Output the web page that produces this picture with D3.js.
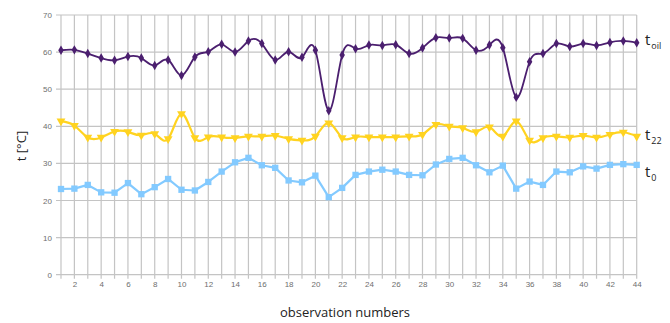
<!DOCTYPE html>
<html>
<head>
<meta charset="utf-8">
<script src="https://cdn.jsdelivr.net/npm/d3@7"></script>
<style>
  html, body { margin: 0; padding: 0; background: #fff; }
  svg { display: block; }
</style>
</head>
<body>
<svg id="chart" width="670" height="323"></svg>
<script>
// observation numbers 1..44
const observations = d3.range(1, 45);

// oil temperature
const tOil = [60.5, 60.6, 59.6, 58.4, 57.8, 58.8, 58.4, 56.4, 57.9, 53.7,
              58.7, 60.1, 62.1, 60.0, 63.0, 62.3, 57.9, 60.1, 58.6, 60.5,
              44.2, 59.2, 60.9, 61.9, 61.8, 62.0, 59.6, 61.1, 63.9, 63.8,
              63.7, 60.5, 61.9, 61.2, 47.8, 57.4, 59.6, 62.3, 61.5, 62.3,
              61.8, 62.6, 63.0, 62.5];

// t22 temperature
const t22 = [41.4, 40.2, 37.0, 37.0, 38.6, 38.5, 37.6, 38.0, 36.6, 43.4,
             36.9, 37.1, 37.1, 36.9, 37.3, 37.3, 37.5, 36.6, 36.2, 37.3,
             40.9, 36.9, 37.1, 37.1, 37.1, 37.1, 37.3, 37.8, 40.5, 40.0,
             39.6, 38.5, 39.8, 37.3, 41.4, 36.2, 36.9, 37.3, 37.0, 37.5,
             37.0, 37.8, 38.4, 37.3];

// ambient temperature
const t0 = [23.1, 23.2, 24.2, 22.2, 22.1, 24.7, 21.7, 23.6, 25.8, 22.9,
            22.7, 25.0, 27.8, 30.3, 31.5, 29.5, 28.8, 25.4, 24.9, 26.7,
            20.9, 23.4, 26.9, 27.8, 28.3, 27.8, 26.9, 26.8, 29.7, 31.2,
            31.5, 29.5, 27.6, 29.4, 23.2, 25.1, 24.2, 27.8, 27.6, 29.2,
            28.6, 29.6, 29.8, 29.6];

const yTicks = [0, 10, 20, 30, 40, 50, 60, 70];
const xTickLabels = d3.range(2, 45, 2);

const svg = d3.select("#chart");
const plotLeft = 61, plotRight = 636.7, plotTop = 15, plotBottom = 274.7;

const x = d3.scaleLinear().domain([1, 44]).range([plotLeft, plotRight]);
const y = d3.scaleLinear().domain([0, 70]).range([plotBottom, plotTop]);

const gridColor = "#c4c4c4";
const labelColor = "#6e6e6e";

// vertical grid: one line per observation
svg.append("g")
  .selectAll("line")
  .data(observations)
  .join("line")
  .attr("x1", d => x(d)).attr("x2", d => x(d))
  .attr("y1", plotTop).attr("y2", plotBottom + 4)
  .attr("stroke", gridColor).attr("stroke-width", 1.2);

// horizontal grid
svg.append("g")
  .selectAll("line")
  .data(yTicks)
  .join("line")
  .attr("x1", plotLeft - 5).attr("x2", plotRight)
  .attr("y1", d => y(d)).attr("y2", d => y(d))
  .attr("stroke", gridColor).attr("stroke-width", 1.2);

// y axis labels
const yAxis = d3.axisLeft(y).tickValues(yTicks).tickSize(0).tickPadding(9);
svg.append("g")
  .attr("transform", `translate(${plotLeft},0)`)
  .call(yAxis)
  .call(g => g.select(".domain").remove())
  .call(g => g.selectAll("text")
    .attr("fill", labelColor)
    .attr("font-family", "Liberation Sans, Arial, sans-serif")
    .attr("font-size", 8));

// x axis labels (even observations only)
const xAxis = d3.axisBottom(x).tickValues(xTickLabels).tickSize(0).tickPadding(7);
svg.append("g")
  .attr("transform", `translate(0,${plotBottom})`)
  .call(xAxis)
  .call(g => g.select(".domain").remove())
  .call(g => g.selectAll("text")
    .attr("fill", labelColor)
    .attr("font-family", "Liberation Sans, Arial, sans-serif")
    .attr("font-size", 8));

// axis titles
svg.append("text")
  .attr("transform", "translate(26,146) rotate(-90)")
  .attr("text-anchor", "middle")
  .attr("font-family", "Open Sans, sans-serif")
  .attr("font-size", 13)
  .attr("fill", "#222")
  .text("t [°C]");

svg.append("text")
  .attr("x", 345).attr("y", 317)
  .attr("text-anchor", "middle")
  .attr("font-family", "Open Sans, sans-serif")
  .attr("font-size", 13)
  .attr("fill", "#222")
  .text("observation numbers");

// series
const series = [
  { values: t0,   color: "#83caff", curve: d3.curveLinear,  symbol: d3.symbolSquare,   size: 40, width: 2.2 },
  { values: t22,  color: "#ffd320", curve: d3.curveNatural, symbol: d3.symbolTriangle, size: 34, width: 2.2, flip: true },
  { values: tOil, color: "#4b1f6f", curve: d3.curveNatural, symbol: d3.symbolDiamond,  size: 26, width: 1.8 }
];

series.forEach(s => {
  const line = d3.line()
    .x((d, i) => x(observations[i]))
    .y(d => y(d))
    .curve(s.curve);
  svg.append("path")
    .datum(s.values)
    .attr("d", line)
    .attr("fill", "none")
    .attr("stroke", s.color)
    .attr("stroke-width", s.width)
    .attr("stroke-linejoin", "round");

  const sym = d3.symbol().type(s.symbol).size(s.size);
  svg.append("g")
    .selectAll("path")
    .data(s.values)
    .join("path")
    .attr("d", sym)
    .attr("transform", (d, i) =>
      `translate(${x(observations[i])},${y(d)})` + (s.flip ? " rotate(180)" : ""))
    .attr("fill", s.color);
});

// series labels at the right edge
const seriesLabels = [
  { main: "t", sub: "oil", y: 45 },
  { main: "t", sub: "22",  y: 140 },
  { main: "t", sub: "0",   y: 177 }
];
const lbl = svg.append("g")
  .attr("font-family", "Open Sans, sans-serif")
  .attr("fill", "#222");
seriesLabels.forEach(l => {
  const t = lbl.append("text").attr("x", 645).attr("y", l.y).attr("font-size", 15);
  t.append("tspan").text(l.main);
  t.append("tspan").attr("font-size", 9).attr("dy", 4).attr("dx", 1).text(l.sub);
});
</script>
</body>
</html>
